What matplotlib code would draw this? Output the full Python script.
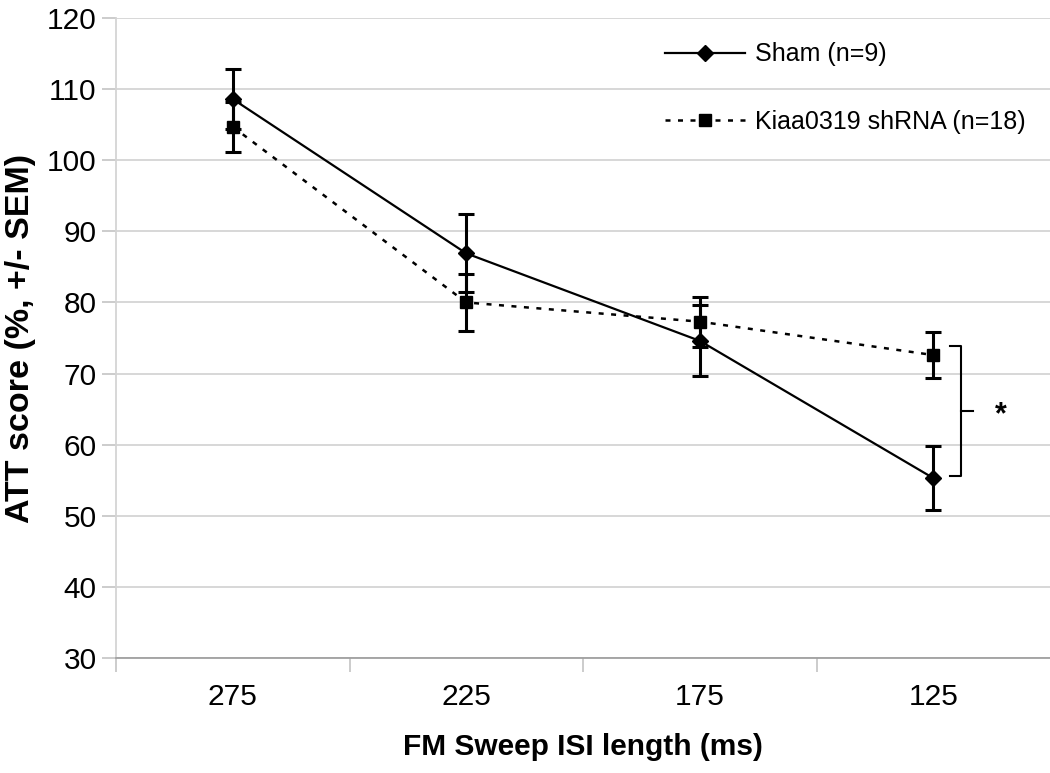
import numpy as np
import matplotlib.pyplot as plt
from matplotlib.lines import Line2D

# data
isi_labels = ['275', '225', '175', '125']
sham_mean = [108.6, 86.9, 74.6, 55.3]
sham_sem = [4.2, 5.5, 5.0, 4.5]
kiaa_mean = [104.7, 80.0, 77.3, 72.6]
kiaa_sem = [3.5, 4.0, 3.5, 3.2]

plt.rcParams['font.family'] = ['Liberation Sans Narrow', 'Liberation Sans', 'DejaVu Sans']

fig = plt.figure(figsize=(10.5, 7.73), dpi=100)
ax = fig.add_axes([0.1105, 0.1488, 0.8895, 0.8279])

x = np.arange(len(isi_labels))
dotted = (0, (2, 3))

# Sham: solid line with diamonds
ax.errorbar(x, sham_mean, yerr=sham_sem, color='black', lw=1.6, marker='D',
            ms=8, ecolor='black', elinewidth=2.2, capsize=6, capthick=2.2, zorder=4)
# Kiaa0319 shRNA: dotted line with squares
ax.errorbar(x, kiaa_mean, yerr=kiaa_sem, color='black', lw=1.8,
            linestyle=dotted, marker='s', ms=8, ecolor='black',
            elinewidth=2.2, capsize=6, capthick=2.2, zorder=4)

# significance bracket at 125 ms
bx0, bx1, bx2 = 3.07, 3.12, 3.17
ax.plot([bx0, bx1, bx1, bx0], [kiaa_mean[3] + 1.3, kiaa_mean[3] + 1.3,
                               sham_mean[3] + 0.3, sham_mean[3] + 0.3],
        color='black', lw=1.5, clip_on=False)
ymid = (kiaa_mean[3] + 1.3 + sham_mean[3] + 0.3) / 2
ax.plot([bx1, bx2], [ymid, ymid], color='black', lw=1.5, clip_on=False)
ax.text(3.29, ymid - 0.6, '*', fontsize=22, fontweight='bold', ha='center', va='center')

ax.set_xlim(-0.5, 3.5)
ax.set_ylim(30, 120)
ax.set_yticks(np.arange(30, 121, 10))
ax.yaxis.grid(True, color='#d4d4d4', lw=1.3)
ax.set_axisbelow(True)

# category boundaries as major ticks, labels on minor ticks
ax.set_xticks([-0.5, 0.5, 1.5, 2.5])
ax.set_xticklabels([])
ax.set_xticks(x, minor=True)
ax.set_xticklabels(isi_labels, minor=True)
ax.tick_params(axis='x', which='major', length=10, color='#c8c8c8', width=1.3)
ax.tick_params(axis='x', which='minor', length=0, pad=18, labelsize=21.5)
ax.tick_params(axis='y', length=10, color='#c8c8c8', width=1.3, labelsize=21.5, pad=4)

for s in ['top', 'right']:
    ax.spines[s].set_visible(False)
ax.spines['left'].set_color('#d4d4d4')
ax.spines['left'].set_linewidth(1.3)
ax.spines['bottom'].set_color('#a0a0a0')
ax.spines['bottom'].set_linewidth(1.3)

ax.set_xlabel('FM Sweep ISI length (ms)', fontsize=21.5, fontweight='bold', labelpad=16)
ax.set_ylabel('ATT score (%, +/- SEM)', fontsize=24.5, fontweight='bold', labelpad=8)

handles = [Line2D([], [], color='black', lw=1.6, marker='D', ms=8),
           Line2D([], [], color='black', lw=1.8, linestyle=dotted, marker='s', ms=8)]
ax.legend(handles, ['Sham (n=9)', 'Kiaa0319 shRNA (n=18)'], loc='upper left',
          bbox_to_anchor=(0.588, 0.962), frameon=False, fontsize=18,
          handlelength=3.2, handletextpad=0.4, labelspacing=1.75,
          borderaxespad=0, borderpad=0)

plt.savefig('out.png', dpi=100)
